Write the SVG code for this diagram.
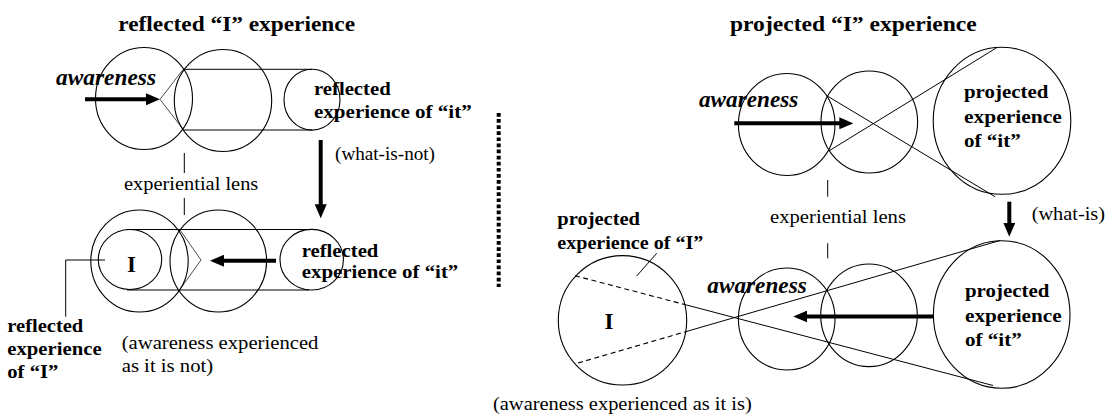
<svg xmlns="http://www.w3.org/2000/svg" width="1107" height="416" viewBox="0 0 1107 416">
  <style>
    .ring{fill:none;stroke:#000;stroke-width:1.1}
    .thin{fill:none;stroke:#000;stroke-width:1}
    .fine{fill:none;stroke:#000;stroke-width:0.7}
    .dash{fill:none;stroke:#000;stroke-width:1.1;stroke-dasharray:5 3.5}
    .flow{fill:none;stroke:#000;stroke-width:4;marker-end:url(#head)}
    .sep{fill:none;stroke:#000;stroke-width:4;stroke-dasharray:3.7 2.4}
    text{font-family:'Liberation Serif','DejaVu Serif',serif;fill:#000}
    .t{font-size:20px;font-weight:bold}
    .b{font-size:19.5px;font-weight:bold}
    .r{font-size:18px}
    .a{font-size:22.5px;font-weight:bold;font-style:italic}
    .big{font-size:23px;font-weight:bold}
  </style>
  <defs>
    <marker id="head" markerUnits="userSpaceOnUse" markerWidth="14" markerHeight="12" refX="6" refY="6" orient="auto">
      <path d="M0,0 L14,6 L0,12 z" fill="#000"/>
    </marker>
  </defs>
  <rect width="1107" height="416" fill="#fff"/>

  <!-- headings -->
  <g id="heading-reflected">
    <text class="t" x="118.3" y="30.7" textLength="236.7" lengthAdjust="spacingAndGlyphs">reflected “I” experience</text>
  </g>
  <g id="heading-projected">
    <text class="t" x="730" y="31" textLength="246.7" lengthAdjust="spacingAndGlyphs">projected “I” experience</text>
  </g>

  <!-- reflected, upper row -->
  <g id="r-awareness">
    <ellipse class="ring" cx="144" cy="98.5" rx="48.5" ry="51"/>
    <text class="a" x="56" y="85" textLength="100" lengthAdjust="spacingAndGlyphs">awareness</text>
  </g>
  <g id="r-lens-top">
    <ellipse class="ring" cx="223" cy="100.5" rx="48.7" ry="51"/>
  </g>
  <g id="r-it-top">
    <ellipse class="ring" cx="312" cy="99.7" rx="28" ry="30.4"/>
    <text class="b" x="314" y="95" textLength="76.7" lengthAdjust="spacingAndGlyphs">reflected</text>
    <text class="b" x="314" y="118.3" textLength="157.7" lengthAdjust="spacingAndGlyphs">experience of “it”</text>
  </g>
  <g id="r-lens-label">
    <text class="r" x="124" y="190" textLength="134.3" lengthAdjust="spacingAndGlyphs">experiential lens</text>
  </g>
  <g id="r-what-is-not">
    <text class="r" x="335" y="159.5" textLength="100" lengthAdjust="spacingAndGlyphs">(what-is-not)</text>
  </g>

  <!-- reflected, lower row -->
  <g id="r-outer">
    <ellipse class="ring" cx="139.5" cy="261" rx="48.7" ry="51"/>
  </g>
  <g id="r-I">
    <ellipse class="ring" cx="130" cy="259.5" rx="31.7" ry="30"/>
    <text class="big" x="127" y="271.7">I</text>
  </g>
  <g id="r-lens-bottom">
    <ellipse class="ring" cx="218.3" cy="261" rx="48.3" ry="51"/>
  </g>
  <g id="r-it-bottom">
    <ellipse class="ring" cx="311.7" cy="259.7" rx="31.7" ry="30.3"/>
    <text class="b" x="301.7" y="256.7" textLength="76.7" lengthAdjust="spacingAndGlyphs">reflected</text>
    <text class="b" x="301.7" y="278.3" textLength="156.6" lengthAdjust="spacingAndGlyphs">experience of “it”</text>
  </g>
  <g id="r-I-label">
    <text class="b" x="7.3" y="331.7" textLength="76" lengthAdjust="spacingAndGlyphs">reflected</text>
    <text class="b" x="7.3" y="355" textLength="94.3" lengthAdjust="spacingAndGlyphs">experience</text>
    <text class="b" x="7.3" y="378.3" textLength="51" lengthAdjust="spacingAndGlyphs">of “I”</text>
  </g>
  <g id="r-caption">
    <text class="r" x="121.7" y="348.5" textLength="196.7" lengthAdjust="spacingAndGlyphs">(awareness experienced</text>
    <text class="r" x="121.7" y="371.5" textLength="91.5" lengthAdjust="spacingAndGlyphs">as it is not)</text>
  </g>

  <!-- divider -->
  <g id="divider">
    <line class="sep" x1="498.7" y1="113" x2="498.7" y2="287"/>
  </g>

  <!-- projected, upper row -->
  <g id="p-awareness">
    <ellipse class="ring" cx="786.7" cy="124.5" rx="48.3" ry="51"/>
    <text class="a" x="699" y="107.3" textLength="99.3" lengthAdjust="spacingAndGlyphs">awareness</text>
  </g>
  <g id="p-lens-top">
    <ellipse class="ring" cx="869.3" cy="122" rx="48.3" ry="51"/>
  </g>
  <g id="p-it-top">
    <ellipse class="ring" cx="1002" cy="120.8" rx="68.8" ry="73.5"/>
    <text class="b" x="964" y="98.3" textLength="84.3" lengthAdjust="spacingAndGlyphs">projected</text>
    <text class="b" x="964" y="122.7" textLength="97.7" lengthAdjust="spacingAndGlyphs">experience</text>
    <text class="b" x="964" y="146.7" textLength="56.7" lengthAdjust="spacingAndGlyphs">of “it”</text>
  </g>
  <g id="p-lens-label">
    <text class="r" x="770" y="223.3" textLength="136" lengthAdjust="spacingAndGlyphs">experiential lens</text>
  </g>
  <g id="p-what-is">
    <text class="r" x="1031.7" y="220" textLength="73.3" lengthAdjust="spacingAndGlyphs">(what-is)</text>
  </g>

  <!-- projected, lower row -->
  <g id="p-I">
    <ellipse class="ring" cx="622.5" cy="320.3" rx="64.2" ry="64.7"/>
    <text class="big" x="604.5" y="329">I</text>
  </g>
  <g id="p-I-label">
    <text class="b" x="557.3" y="225" textLength="82.7" lengthAdjust="spacingAndGlyphs">projected</text>
    <text class="b" x="557.3" y="249.3" textLength="146" lengthAdjust="spacingAndGlyphs">experience of “I”</text>
  </g>
  <g id="p-awareness-bottom">
    <ellipse class="ring" cx="786.7" cy="319" rx="48.3" ry="51"/>
    <text class="a" x="707.3" y="293.3" textLength="99.5" lengthAdjust="spacingAndGlyphs">awareness</text>
  </g>
  <g id="p-lens-bottom">
    <ellipse class="ring" cx="869" cy="315.3" rx="48.3" ry="51.3"/>
  </g>
  <g id="p-it-bottom">
    <ellipse class="ring" cx="1001.7" cy="314.5" rx="68.3" ry="73.8"/>
    <text class="b" x="965" y="296.7" textLength="84.3" lengthAdjust="spacingAndGlyphs">projected</text>
    <text class="b" x="965" y="321.7" textLength="96.7" lengthAdjust="spacingAndGlyphs">experience</text>
    <text class="b" x="965" y="345.7" textLength="56.7" lengthAdjust="spacingAndGlyphs">of “it”</text>
  </g>
  <g id="p-caption">
    <text class="r" x="493" y="410" textLength="258.7" lengthAdjust="spacingAndGlyphs">(awareness experienced as it is)</text>
  </g>

  <!-- connectors -->
  <g id="connectors">
    <!-- reflected, upper row -->
    <line class="thin" x1="183.3" y1="69.3" x2="312" y2="69.3"/>
    <line class="thin" x1="183.3" y1="130" x2="312" y2="130"/>
    <polyline class="fine" points="183.3,69.3 160,99.4 183.3,129.5"/>
    <line class="flow" x1="85" y1="99.3" x2="152" y2="99.3"/>
    <line class="thin" x1="184.3" y1="153" x2="184.3" y2="173"/>
    <line class="thin" x1="184.3" y1="198" x2="184.3" y2="215"/>
    <line class="flow" x1="320.7" y1="140" x2="320.7" y2="210.3"/>

    <!-- reflected, lower row -->
    <line class="thin" x1="127" y1="229.5" x2="309" y2="229.5"/>
    <line class="thin" x1="127" y1="290" x2="309" y2="290"/>
    <polyline class="fine" points="180,230 201,260 180,289.3"/>
    <line class="flow" x1="276" y1="260.7" x2="218" y2="260.7"/>
    <polyline class="thin" points="105,260 65.7,260 65.7,316.7"/>

    <!-- projected, upper row -->
    <line class="thin" x1="827.3" y1="96" x2="995" y2="196.7"/>
    <line class="thin" x1="829.3" y1="150.7" x2="996.7" y2="47.7"/>
    <line class="flow" x1="734.3" y1="123.3" x2="845.3" y2="123.3"/>
    <line class="thin" x1="827.7" y1="180" x2="827.7" y2="196.7"/>
    <line class="thin" x1="827.7" y1="243.3" x2="827.7" y2="258.3"/>
    <line class="flow" x1="1009.3" y1="201.7" x2="1009.3" y2="228.7"/>

    <!-- projected, lower row -->
    <line class="dash" x1="575" y1="275.7" x2="685" y2="304.6"/>
    <line class="thin" x1="685" y1="304.6" x2="993" y2="385.5"/>
    <line class="dash" x1="578" y1="363" x2="685" y2="331.9"/>
    <line class="thin" x1="685" y1="331.9" x2="1000" y2="240.5"/>
    <line class="flow" x1="933.3" y1="316.5" x2="801.3" y2="316.5"/>
    <line class="thin" x1="656.7" y1="253.3" x2="636.7" y2="276"/>
  </g>
</svg>
